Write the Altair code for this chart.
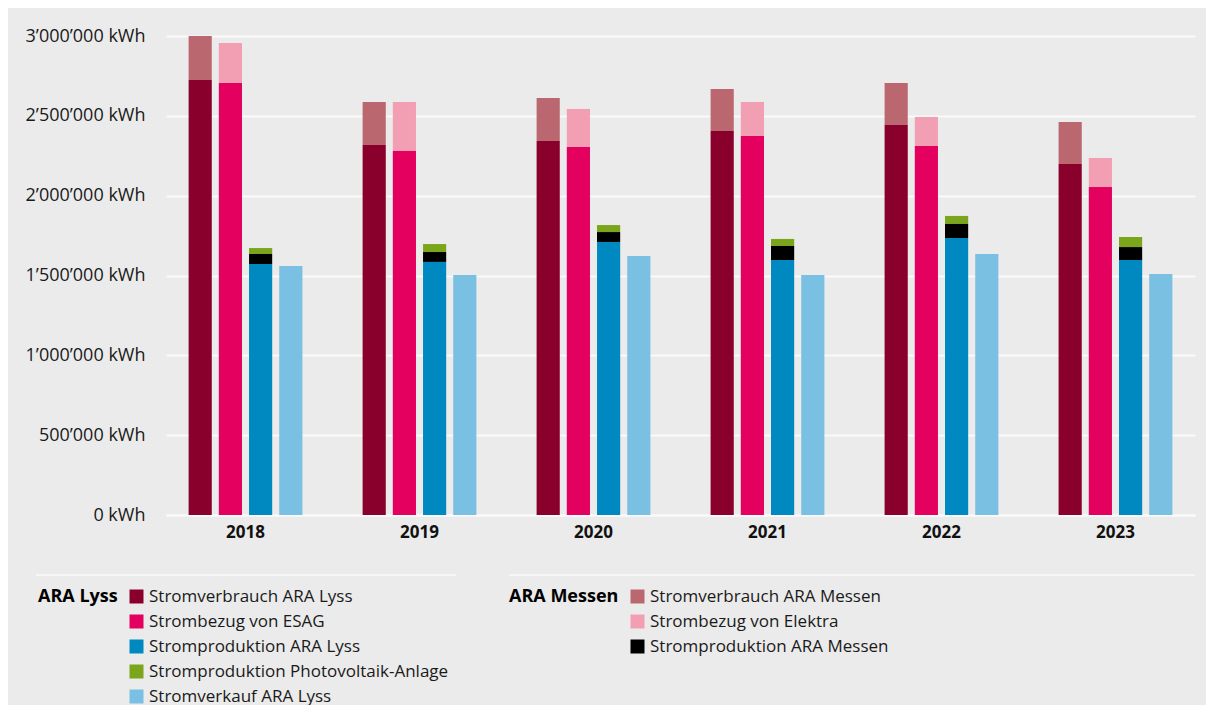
import altair as alt
import pandas as pd

years = ["2018", "2019", "2020", "2021", "2022", "2023"]

# ARA Lyss
verbrauch_lyss = [2724000, 2317000, 2342000, 2405000, 2443000, 2198000]
bezug_esag = [2706000, 2280000, 2305000, 2374000, 2311000, 2054000]
produktion_lyss = [1572000, 1585000, 1710000, 1597000, 1735000, 1597000]
produktion_pv = [37000, 50000, 44000, 44000, 50000, 63000]
verkauf_lyss = [1559000, 1503000, 1622000, 1503000, 1635000, 1509000]

# ARA Messen
verbrauch_messen = [276000, 270000, 270000, 263000, 263000, 263000]
bezug_elektra = [250000, 307000, 238000, 213000, 182000, 182000]
produktion_messen = [63000, 62000, 62000, 88000, 88000, 81000]

lyss_names = ["Stromverbrauch ARA Lyss", "Strombezug von ESAG", "Stromproduktion ARA Lyss",
              "Stromproduktion Photovoltaik-Anlage", "Stromverkauf ARA Lyss"]
lyss_colors = ["#8a002d", "#e3005f", "#0089c1", "#7ba61b", "#7ac0e2"]
messen_names = ["Stromverbrauch ARA Messen", "Strombezug von Elektra", "Stromproduktion ARA Messen"]
messen_colors = ["#ba6770", "#f29fb3", "#000000"]

# (series name, group, bar index, stacking order, values)
series = [
    ("Stromverbrauch ARA Lyss", "Lyss", "1", 0, verbrauch_lyss),
    ("Stromverbrauch ARA Messen", "Messen", "1", 1, verbrauch_messen),
    ("Strombezug von ESAG", "Lyss", "2", 0, bezug_esag),
    ("Strombezug von Elektra", "Messen", "2", 1, bezug_elektra),
    ("Stromproduktion ARA Lyss", "Lyss", "3", 0, produktion_lyss),
    ("Stromproduktion ARA Messen", "Messen", "3", 1, produktion_messen),
    ("Stromproduktion Photovoltaik-Anlage", "Lyss", "3", 2, produktion_pv),
    ("Stromverkauf ARA Lyss", "Lyss", "4", 0, verkauf_lyss),
]

rows = []
for name, group, bar, order, vals in series:
    for y, v in zip(years, vals):
        rows.append({"year": y, "series": name, "group": group, "bar": bar, "order": order, "value": v})
df = pd.DataFrame(rows)

FONT = "Open Sans"

base = alt.Chart(df).transform_stack(
    stack="value", as_=["y0", "y1"], groupby=["year", "bar"], sort=[alt.SortField("order")]
)

x_enc = alt.X("year:N", sort=years, title=None,
              scale=alt.Scale(paddingInner=0.346, paddingOuter=0.13),
              axis=alt.Axis(labelFont=FONT, labelFontSize=17, labelFontWeight="bold",
                            labelColor="#111111", labelAngle=0, labelPadding=9,
                            ticks=False, domainColor="#fafafa", domainWidth=2, grid=False))
xo_enc = alt.XOffset("bar:N", sort=["1", "2", "3", "4"],
                     scale=alt.Scale(domain=["1", "2", "3", "4"], paddingInner=0.233, paddingOuter=0))
y_enc = alt.Y("y1:Q", title=None,
              scale=alt.Scale(domain=[0, 3000000], nice=False),
              axis=alt.Axis(values=[0, 500000, 1000000, 1500000, 2000000, 2500000, 3000000],
                            labelExpr="replace(replace(format(datum.value, ','), ',', '’'), ',', '’') + ' kWh'",
                            labelFont=FONT, labelFontSize=18, labelColor="#1a1a1a",
                            labelPadding=21, ticks=False, domain=False,
                            gridColor="#fafafa", gridWidth=2))

def legend(title, x):
    return alt.Legend(title=title, orient="none", legendX=x, legendY=552,
                      titleOrient="left", titleAnchor="start", titleBaseline="top",
                      titleFont=FONT, titleFontSize=18, titleFontWeight="bold", titleColor="#000000",
                      titlePadding=10,
                      labelFont=FONT, labelFontSize=17, labelColor="#1a1a1a", labelOffset=4,
                      symbolType="square", symbolSize=196, symbolStrokeWidth=0, symbolOpacity=1,
                      rowPadding=7, labelLimit=400)

lyss = base.transform_filter(alt.datum.group == "Lyss").mark_bar().encode(
    x=x_enc, xOffset=xo_enc, y=y_enc, y2="y0:Q",
    color=alt.Color("series:N", sort=lyss_names,
                    scale=alt.Scale(domain=lyss_names, range=lyss_colors),
                    legend=legend("ARA Lyss", -128)),
)
messen = base.transform_filter(alt.datum.group == "Messen").mark_bar().encode(
    x=x_enc, xOffset=xo_enc, y=y_enc, y2="y0:Q",
    color=alt.Color("series:N", sort=messen_names,
                    scale=alt.Scale(domain=messen_names, range=messen_colors),
                    legend=legend("ARA Messen", 343)),
)

sep_df = pd.DataFrame({"k": [0]})
sep1 = alt.Chart(sep_df).mark_rule(color="#fafafa", strokeWidth=1.5).encode(
    x=alt.value(-130), x2=alt.value(290), y=alt.value(539))
sep2 = alt.Chart(sep_df).mark_rule(color="#fafafa", strokeWidth=1.5).encode(
    x=alt.value(343), x2=alt.value(1029), y=alt.value(539))

chart = alt.layer(lyss, messen, sep1, sep2).resolve_scale(color="independent").properties(
    width=1029, height=479,
    autosize=alt.AutoSizeParams(type="none"),
    padding={"left": 158, "top": 28, "right": 11, "bottom": 190},
    background="#ebebeb",
).configure_view(stroke=None)

chart.save("out.html", embed_options={"renderer": "svg", "actions": False})
